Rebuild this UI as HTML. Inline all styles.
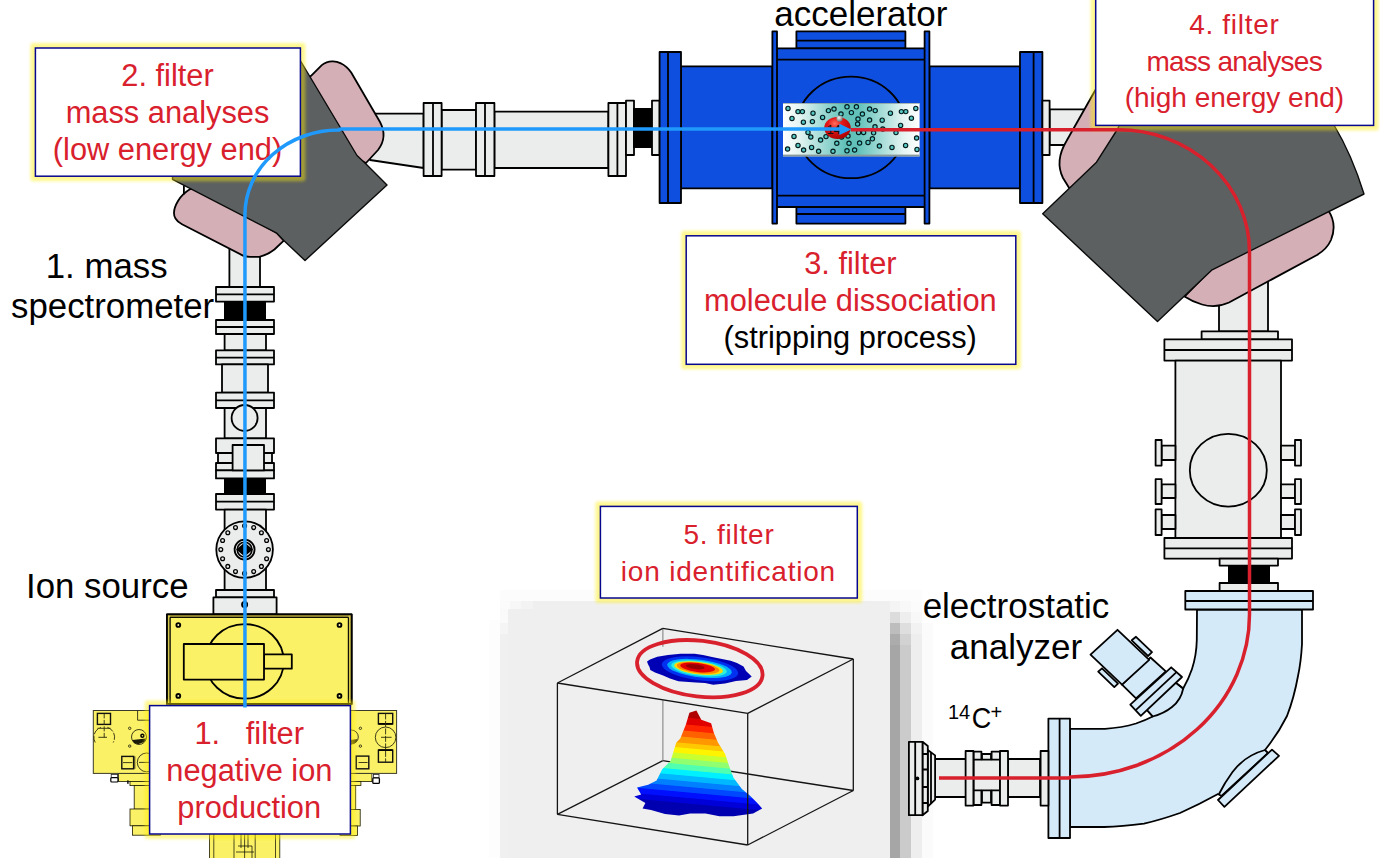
<!DOCTYPE html>
<html lang="en">
<head>
<meta charset="utf-8">
<title>AMS filter scheme</title>
<style>
html,body{margin:0;padding:0;background:#fff;}
body{width:1380px;height:858px;overflow:hidden;}
svg{display:block;}
svg text{font-family:"Liberation Sans",sans-serif;}
.o{stroke:#000;stroke-width:1.8;stroke-linejoin:round;}
.t{stroke:#000;stroke-width:1;}
.g{stroke:#0a0a0a;stroke-width:1.4;stroke-linejoin:round;}
.t2{stroke:#1a1a00;stroke-width:0.8;}
.n{stroke:none;}
.w{stroke:#141414;stroke-width:1.3;}
</style>
</head>
<body>
<svg width="1380" height="858" viewBox="0 0 1380 858">
<defs>
<linearGradient id="jet" x1="700" y1="710.6" x2="690" y2="819" gradientUnits="userSpaceOnUse">
<stop offset="0.0040" stop-color="#b00000"/>
<stop offset="0.0719" stop-color="#b00000"/>
<stop offset="0.0799" stop-color="#e00000"/>
<stop offset="0.1351" stop-color="#e00000"/>
<stop offset="0.1431" stop-color="#ff2400"/>
<stop offset="0.1920" stop-color="#ff2400"/>
<stop offset="0.2000" stop-color="#ff6000"/>
<stop offset="0.2489" stop-color="#ff6000"/>
<stop offset="0.2569" stop-color="#ff9800"/>
<stop offset="0.3058" stop-color="#ff9800"/>
<stop offset="0.3138" stop-color="#ffc800"/>
<stop offset="0.3501" stop-color="#ffc800"/>
<stop offset="0.3581" stop-color="#fff400"/>
<stop offset="0.4007" stop-color="#fff400"/>
<stop offset="0.4087" stop-color="#c8ff30"/>
<stop offset="0.4512" stop-color="#c8ff30"/>
<stop offset="0.4592" stop-color="#90ff70"/>
<stop offset="0.5018" stop-color="#90ff70"/>
<stop offset="0.5098" stop-color="#50ffb0"/>
<stop offset="0.5524" stop-color="#50ffb0"/>
<stop offset="0.5604" stop-color="#00f0ff"/>
<stop offset="0.6030" stop-color="#00f0ff"/>
<stop offset="0.6110" stop-color="#00b8ff"/>
<stop offset="0.6536" stop-color="#00b8ff"/>
<stop offset="0.6616" stop-color="#0080ff"/>
<stop offset="0.7042" stop-color="#0080ff"/>
<stop offset="0.7122" stop-color="#0048ff"/>
<stop offset="0.7547" stop-color="#0048ff"/>
<stop offset="0.7627" stop-color="#0010ff"/>
<stop offset="0.8053" stop-color="#0010ff"/>
<stop offset="0.8133" stop-color="#0000d8"/>
<stop offset="0.8559" stop-color="#0000d8"/>
<stop offset="0.8639" stop-color="#0000b0"/>
<stop offset="0.9571" stop-color="#0000b0"/>
</linearGradient>
<linearGradient id="gas" x1="0" y1="0" x2="1" y2="0">
<stop offset="0" stop-color="#ffffff"/>
<stop offset="0.12" stop-color="#e4f4f2"/>
<stop offset="0.45" stop-color="#62c2ba"/>
<stop offset="0.55" stop-color="#62c2ba"/>
<stop offset="0.88" stop-color="#e4f4f2"/>
<stop offset="1" stop-color="#ffffff"/>
</linearGradient>
<radialGradient id="ball" cx="0.4" cy="0.3" r="0.75">
<stop offset="0" stop-color="#ff7060"/>
<stop offset="0.35" stop-color="#e61818"/>
<stop offset="1" stop-color="#a80000"/>
</radialGradient>
<radialGradient id="ballg" cx="0.4" cy="0.35" r="0.7">
<stop offset="0" stop-color="#f4f4f4"/>
<stop offset="1" stop-color="#6a6a6a"/>
</radialGradient>
<filter id="glow" x="-10%" y="-20%" width="120%" height="140%">
<feGaussianBlur stdDeviation="1.6"/>
</filter>
</defs>
<rect x="500" y="590" width="422" height="11" fill="#fcfcfc"/>
<rect x="489" y="620" width="11" height="238" fill="#fdfdfd"/>
<rect x="500" y="601" width="10" height="8" fill="#fbfbfb"/>
<rect x="510" y="601" width="11" height="8" fill="#f7f7f7"/>
<rect x="521" y="601" width="12" height="8" fill="#f3f3f3"/>
<rect x="533" y="601" width="357" height="8" fill="#efefef"/>
<rect x="500" y="609" width="8" height="14" fill="#fafafa"/>
<rect x="500" y="623" width="8" height="11" fill="#f5f5f5"/>
<rect x="500" y="634" width="8" height="224" fill="#f0f0f0"/>
<rect x="508" y="609" width="382" height="249" fill="#efefef"/>
<rect x="890" y="601" width="10" height="11" fill="#f4f4f4"/>
<rect x="890" y="612" width="10" height="11" fill="#dcdcdc"/>
<rect x="890" y="623" width="10" height="11" fill="#bdbdbd"/>
<rect x="890" y="634" width="10" height="11" fill="#acacac"/>
<rect x="890" y="645" width="10" height="213" fill="#a6a6a6"/>
<rect x="900" y="601" width="11" height="11" fill="#f8f8f8"/>
<rect x="900" y="612" width="11" height="11" fill="#eeeeee"/>
<rect x="900" y="623" width="11" height="11" fill="#dedede"/>
<rect x="900" y="634" width="11" height="11" fill="#d2d2d2"/>
<rect x="900" y="645" width="11" height="213" fill="#cbcbcb"/>
<rect x="911" y="601" width="11" height="11" fill="#fbfbfb"/>
<rect x="911" y="612" width="11" height="11" fill="#f8f8f8"/>
<rect x="911" y="623" width="11" height="11" fill="#f2f2f2"/>
<rect x="911" y="634" width="11" height="224" fill="#eeeeee"/>
<rect x="922" y="623" width="11" height="235" fill="#fbfbfb"/>
<line x1="662.8" y1="760.7" x2="853.3" y2="790.5" class="w"/>
<line x1="662.8" y1="760.7" x2="557.4" y2="814.3" class="w"/>
<path d="M662.9,628.4 V646.8 M662.9,700.4 V760.7" stroke="#7a7a7a" stroke-width="1" fill="none"/>
<path d="M647,661.4 L650,659.6 L657.3,656.7 L668,655 L680.6,653.8 L694.6,653.8 L703,655 L713.2,657.3 L730.7,660.8 L737,663 L743.5,666.6 L746,671 L751.7,676.5 L747,680 L736,681 L725,683.5 L713.2,684.7 L705,683 L695.8,682.4 L678.3,681.2 L670,678.6 L663.1,675.4 L655,672.6 L650.3,670.1 L649.5,667 L648,664.3Z" fill="#0000b4"/>
<g transform="translate(699,668.4) rotate(7)">
<ellipse cx="1" cy="0.2" rx="38.5" ry="11.6" fill="#0030f0"/>
<ellipse cx="0.5" cy="0" rx="32.5" ry="8.8" fill="#00b0ff"/>
<ellipse cx="0" cy="0" rx="28" ry="7.4" fill="#30f0d8"/>
<ellipse cx="-0.5" cy="-0.2" rx="24.5" ry="6.2" fill="#ffd800"/>
<ellipse cx="-1" cy="-0.4" rx="21.5" ry="5.4" fill="#ff8400"/>
<ellipse cx="-1.5" cy="-0.8" rx="17.5" ry="4.5" fill="#e40000"/>
<ellipse cx="-4" cy="-1.2" rx="9.5" ry="2.4" fill="#980000"/>
</g>
<path d="M689.4,712.7 L696.4,710.6 L701.3,719.7 L711.1,723.2 L713.9,733 L718.1,742.8 L725.1,754 L729.3,766.5 L733.5,777.7 L741.9,788.9 L750.3,795.9 L757.3,802.9 L762.2,808.5 L753.1,813.4 L733.5,816.2 L719.5,816.2 L705.5,813.4 L690.1,813.4 L679,815.5 L665,814.1 L651,809.9 L642.6,808.5 L645.4,802.9 L634.2,796.6 L641.2,794.5 L637,787.5 L648.2,784.7 L656.6,780.5 L662.2,769.3 L670.6,760.9 L676.2,742.8 L680.3,738.6 L685.9,724.6Z" fill="url(#jet)"/>
<line x1="662.8" y1="628.4" x2="853.3" y2="659" class="w"/>
<line x1="853.3" y1="659" x2="747.7" y2="713.3" class="w"/>
<line x1="747.7" y1="713.3" x2="557.4" y2="683" class="w"/>
<line x1="557.4" y1="683" x2="662.8" y2="628.4" class="w"/>
<line x1="853.3" y1="659" x2="853.3" y2="790.5" class="w"/>
<line x1="747.7" y1="713.3" x2="747.7" y2="845" class="w"/>
<line x1="557.4" y1="683" x2="557.4" y2="814.3" class="w"/>
<line x1="853.3" y1="790.5" x2="747.7" y2="845" class="w"/>
<line x1="747.7" y1="845" x2="557.4" y2="814.3" class="w"/>
<ellipse cx="699.8" cy="668.7" rx="63.1" ry="27.9" transform="rotate(6.6 699.8 668.7)" fill="none" stroke="#d9202d" stroke-width="3.8"/>
<path d="M370,113.6 L423.6,113.6 L423.6,168 L370,160 Z" fill="#ebecec" class="o"/>
<rect x="441.6" y="110.0" width="34.4" height="59.6" fill="#ebecec" class="o" />
<rect x="494.4" y="111.6" width="114.0" height="56.4" fill="#ebecec" class="o" />
<rect x="423.6" y="103.0" width="18.0" height="73.0" fill="#ebecec" class="o" />
<line x1="433" y1="103" x2="433" y2="176" class="o"/>
<rect x="476.0" y="103.0" width="18.4" height="73.0" fill="#ebecec" class="o" />
<line x1="485" y1="103" x2="485" y2="176" class="o"/>
<rect x="608.4" y="103.0" width="17.6" height="73.0" fill="#ebecec" class="o" />
<line x1="617.4" y1="103" x2="617.4" y2="176" class="o"/>
<rect x="626.0" y="100.6" width="8.0" height="54.4" fill="#ebecec" class="o" />
<rect x="633.0" y="108.0" width="20.0" height="40.0" fill="#000" class="n" />
<rect x="652.0" y="100.6" width="7.6" height="54.4" fill="#ebecec" class="o" />
<rect x="681.0" y="66.4" width="91.4" height="122.0" fill="#0f4fe0" class="o" />
<rect x="929.4" y="66.4" width="90.6" height="122.0" fill="#0f4fe0" class="o" />
<rect x="659.6" y="52.0" width="21.4" height="151.0" fill="#0f4fe0" class="o" />
<line x1="668" y1="52" x2="668" y2="203" class="o"/>
<rect x="1020.0" y="52.0" width="22.4" height="151.0" fill="#0f4fe0" class="o" />
<line x1="1033.6" y1="52" x2="1033.6" y2="203" class="o"/>
<rect x="796.4" y="31.4" width="109.0" height="17.0" fill="#0f4fe0" class="o" />
<line x1="796.4" y1="40.6" x2="905.4" y2="40.6" class="o"/>
<rect x="796.4" y="207.0" width="109.0" height="16.6" fill="#0f4fe0" class="o" />
<line x1="796.4" y1="214" x2="905.4" y2="214" class="o"/>
<rect x="776.4" y="48.4" width="148.6" height="158.6" fill="#0f4fe0" class="o" />
<line x1="776.4" y1="59.6" x2="925" y2="59.6" class="o"/>
<line x1="776.4" y1="195.6" x2="925" y2="195.6" class="o"/>
<rect x="772.4" y="31.4" width="4.6" height="192.2" fill="#0f4fe0" class="o" />
<rect x="924.6" y="31.4" width="4.8" height="192.2" fill="#0f4fe0" class="o" />
<ellipse cx="851" cy="127.4" rx="54.5" ry="50.8" fill="#0f4fe0" class="o"/>
<rect x="783" y="103" width="136.6" height="53.4" fill="url(#gas)"/>
<rect x="783" y="154.6" width="136.6" height="1.8" fill="#8a9a9a"/>
<rect x="783" y="103" width="136.6" height="1" fill="#7a8a8a" opacity="0.6"/>
<circle cx="788.0" cy="108.4" r="2.15" fill="#58c9c6" stroke="#041c1c" stroke-width="1.15"/>
<circle cx="798.0" cy="111.6" r="2.15" fill="#58c9c6" stroke="#041c1c" stroke-width="1.15"/>
<circle cx="802.4" cy="111.6" r="2.15" fill="#58c9c6" stroke="#041c1c" stroke-width="1.15"/>
<circle cx="813.0" cy="113.2" r="2.15" fill="#58c9c6" stroke="#041c1c" stroke-width="1.15"/>
<circle cx="792.0" cy="118.4" r="2.15" fill="#58c9c6" stroke="#041c1c" stroke-width="1.15"/>
<circle cx="803.4" cy="122.2" r="2.15" fill="#58c9c6" stroke="#041c1c" stroke-width="1.15"/>
<circle cx="812.4" cy="121.6" r="2.15" fill="#58c9c6" stroke="#041c1c" stroke-width="1.15"/>
<circle cx="822.6" cy="117.4" r="2.15" fill="#58c9c6" stroke="#041c1c" stroke-width="1.15"/>
<circle cx="828.4" cy="110.6" r="2.15" fill="#58c9c6" stroke="#041c1c" stroke-width="1.15"/>
<circle cx="834.0" cy="109.0" r="2.15" fill="#58c9c6" stroke="#041c1c" stroke-width="1.15"/>
<circle cx="847.0" cy="106.8" r="2.15" fill="#58c9c6" stroke="#041c1c" stroke-width="1.15"/>
<circle cx="856.4" cy="106.8" r="2.15" fill="#58c9c6" stroke="#041c1c" stroke-width="1.15"/>
<circle cx="841.0" cy="114.0" r="2.15" fill="#58c9c6" stroke="#041c1c" stroke-width="1.15"/>
<circle cx="851.4" cy="112.6" r="2.15" fill="#58c9c6" stroke="#041c1c" stroke-width="1.15"/>
<circle cx="862.4" cy="114.0" r="2.15" fill="#58c9c6" stroke="#041c1c" stroke-width="1.15"/>
<circle cx="869.6" cy="109.0" r="2.15" fill="#58c9c6" stroke="#041c1c" stroke-width="1.15"/>
<circle cx="875.2" cy="110.6" r="2.15" fill="#58c9c6" stroke="#041c1c" stroke-width="1.15"/>
<circle cx="858.0" cy="119.0" r="2.15" fill="#58c9c6" stroke="#041c1c" stroke-width="1.15"/>
<circle cx="869.6" cy="120.0" r="2.15" fill="#58c9c6" stroke="#041c1c" stroke-width="1.15"/>
<circle cx="882.2" cy="120.2" r="2.15" fill="#58c9c6" stroke="#041c1c" stroke-width="1.15"/>
<circle cx="890.4" cy="113.2" r="2.15" fill="#58c9c6" stroke="#041c1c" stroke-width="1.15"/>
<circle cx="901.4" cy="111.6" r="2.15" fill="#58c9c6" stroke="#041c1c" stroke-width="1.15"/>
<circle cx="905.8" cy="111.6" r="2.15" fill="#58c9c6" stroke="#041c1c" stroke-width="1.15"/>
<circle cx="915.8" cy="108.4" r="2.15" fill="#58c9c6" stroke="#041c1c" stroke-width="1.15"/>
<circle cx="911.4" cy="118.2" r="2.15" fill="#58c9c6" stroke="#041c1c" stroke-width="1.15"/>
<circle cx="900.6" cy="125.4" r="2.15" fill="#58c9c6" stroke="#041c1c" stroke-width="1.15"/>
<circle cx="857.6" cy="124.0" r="2.15" fill="#58c9c6" stroke="#041c1c" stroke-width="1.15"/>
<circle cx="875.0" cy="126.8" r="2.15" fill="#58c9c6" stroke="#041c1c" stroke-width="1.15"/>
<circle cx="882.8" cy="129.0" r="2.15" fill="#58c9c6" stroke="#041c1c" stroke-width="1.15"/>
<circle cx="794.0" cy="136.4" r="2.15" fill="#58c9c6" stroke="#041c1c" stroke-width="1.15"/>
<circle cx="808.0" cy="132.4" r="2.15" fill="#58c9c6" stroke="#041c1c" stroke-width="1.15"/>
<circle cx="810.8" cy="137.0" r="2.15" fill="#58c9c6" stroke="#041c1c" stroke-width="1.15"/>
<circle cx="820.6" cy="140.0" r="2.15" fill="#58c9c6" stroke="#041c1c" stroke-width="1.15"/>
<circle cx="826.0" cy="136.6" r="2.15" fill="#58c9c6" stroke="#041c1c" stroke-width="1.15"/>
<circle cx="841.6" cy="137.0" r="2.15" fill="#58c9c6" stroke="#041c1c" stroke-width="1.15"/>
<circle cx="848.0" cy="136.0" r="2.15" fill="#58c9c6" stroke="#041c1c" stroke-width="1.15"/>
<circle cx="858.6" cy="132.4" r="2.15" fill="#58c9c6" stroke="#041c1c" stroke-width="1.15"/>
<circle cx="863.6" cy="132.4" r="2.15" fill="#58c9c6" stroke="#041c1c" stroke-width="1.15"/>
<circle cx="873.6" cy="132.8" r="2.15" fill="#58c9c6" stroke="#041c1c" stroke-width="1.15"/>
<circle cx="872.4" cy="138.8" r="2.15" fill="#58c9c6" stroke="#041c1c" stroke-width="1.15"/>
<circle cx="868.0" cy="142.4" r="2.15" fill="#58c9c6" stroke="#041c1c" stroke-width="1.15"/>
<circle cx="859.6" cy="143.0" r="2.15" fill="#58c9c6" stroke="#041c1c" stroke-width="1.15"/>
<circle cx="849.0" cy="143.2" r="2.15" fill="#58c9c6" stroke="#041c1c" stroke-width="1.15"/>
<circle cx="836.8" cy="143.2" r="2.15" fill="#58c9c6" stroke="#041c1c" stroke-width="1.15"/>
<circle cx="896.0" cy="132.6" r="2.15" fill="#58c9c6" stroke="#041c1c" stroke-width="1.15"/>
<circle cx="916.6" cy="138.0" r="2.15" fill="#58c9c6" stroke="#041c1c" stroke-width="1.15"/>
<circle cx="798.0" cy="145.4" r="2.15" fill="#58c9c6" stroke="#041c1c" stroke-width="1.15"/>
<circle cx="803.6" cy="150.0" r="2.15" fill="#58c9c6" stroke="#041c1c" stroke-width="1.15"/>
<circle cx="811.6" cy="147.4" r="2.15" fill="#58c9c6" stroke="#041c1c" stroke-width="1.15"/>
<circle cx="818.6" cy="151.2" r="2.15" fill="#58c9c6" stroke="#041c1c" stroke-width="1.15"/>
<circle cx="833.0" cy="151.2" r="2.15" fill="#58c9c6" stroke="#041c1c" stroke-width="1.15"/>
<circle cx="847.0" cy="150.8" r="2.15" fill="#58c9c6" stroke="#041c1c" stroke-width="1.15"/>
<circle cx="854.6" cy="150.0" r="2.15" fill="#58c9c6" stroke="#041c1c" stroke-width="1.15"/>
<circle cx="879.4" cy="146.0" r="2.15" fill="#58c9c6" stroke="#041c1c" stroke-width="1.15"/>
<circle cx="892.0" cy="147.4" r="2.15" fill="#58c9c6" stroke="#041c1c" stroke-width="1.15"/>
<circle cx="905.6" cy="145.4" r="2.15" fill="#58c9c6" stroke="#041c1c" stroke-width="1.15"/>
<circle cx="917.0" cy="149.4" r="2.15" fill="#58c9c6" stroke="#041c1c" stroke-width="1.15"/>
<circle cx="787.6" cy="149.0" r="2.15" fill="#58c9c6" stroke="#041c1c" stroke-width="1.15"/>
<ellipse cx="837.5" cy="127.9" rx="13.2" ry="11" fill="url(#ball)"/>
<circle cx="839.6" cy="118.6" r="3.1" fill="url(#ballg)"/>
<text x="833.6" y="133.6" font-size="12.5" text-anchor="middle" fill="#111" font-family="Liberation Sans, sans-serif">14</text>
<rect x="229.4" y="245.0" width="30.6" height="42.0" fill="#ebecec" class="o" />
<rect x="216.0" y="287.0" width="58.0" height="14.6" fill="#ebecec" class="o" />
<line x1="216" y1="294.4" x2="274" y2="294.4" class="o"/>
<rect x="224.0" y="301.0" width="42.0" height="20.0" fill="#000" class="n" />
<rect x="216.0" y="320.0" width="58.0" height="14.0" fill="#ebecec" class="o" />
<line x1="216" y1="327" x2="274" y2="327" class="o"/>
<rect x="224.6" y="334.0" width="41.4" height="16.4" fill="#ebecec" class="o" />
<rect x="216.0" y="350.4" width="58.0" height="14.0" fill="#ebecec" class="o" />
<line x1="216" y1="357.6" x2="274" y2="357.6" class="o"/>
<rect x="222.0" y="364.4" width="46.0" height="28.2" fill="#ebecec" class="o" />
<rect x="216.0" y="392.6" width="58.0" height="15.4" fill="#ebecec" class="o" />
<line x1="216" y1="400.4" x2="274" y2="400.4" class="o"/>
<rect x="224.6" y="408.0" width="41.4" height="30.4" fill="#ebecec" class="o" />
<circle cx="244.6" cy="418" r="13" fill="#ebecec" class="o"/>
<rect x="216.0" y="438.4" width="58.0" height="14.6" fill="#ebecec" class="o" />
<rect x="218.0" y="453.0" width="54.0" height="10.0" fill="#ebecec" class="o" />
<rect x="216.0" y="463.0" width="58.0" height="7.4" fill="#ebecec" class="o" />
<rect x="216.0" y="470.4" width="58.0" height="8.0" fill="#ebecec" class="o" />
<rect x="232.6" y="445.0" width="31.4" height="25.4" fill="#ebecec" class="o" />
<rect x="224.0" y="478.0" width="42.0" height="17.0" fill="#000" class="n" />
<rect x="216.0" y="494.0" width="58.0" height="15.6" fill="#ebecec" class="o" />
<line x1="216" y1="501.6" x2="274" y2="501.6" class="o"/>
<rect x="224.6" y="509.6" width="41.4" height="80.4" fill="#ebecec" class="o" />
<circle cx="244.6" cy="549.6" r="28.3" fill="#ebecec" class="o"/>
<circle cx="244.6" cy="525.8" r="1.9" fill="#ebecec" stroke="#000" stroke-width="1.3"/>
<circle cx="253.7" cy="527.6" r="1.9" fill="#ebecec" stroke="#000" stroke-width="1.3"/>
<circle cx="261.4" cy="532.8" r="1.9" fill="#ebecec" stroke="#000" stroke-width="1.3"/>
<circle cx="266.6" cy="540.5" r="1.9" fill="#ebecec" stroke="#000" stroke-width="1.3"/>
<circle cx="268.4" cy="549.6" r="1.9" fill="#ebecec" stroke="#000" stroke-width="1.3"/>
<circle cx="266.6" cy="558.7" r="1.9" fill="#ebecec" stroke="#000" stroke-width="1.3"/>
<circle cx="261.4" cy="566.4" r="1.9" fill="#ebecec" stroke="#000" stroke-width="1.3"/>
<circle cx="253.7" cy="571.6" r="1.9" fill="#ebecec" stroke="#000" stroke-width="1.3"/>
<circle cx="244.6" cy="573.4" r="1.9" fill="#ebecec" stroke="#000" stroke-width="1.3"/>
<circle cx="235.5" cy="571.6" r="1.9" fill="#ebecec" stroke="#000" stroke-width="1.3"/>
<circle cx="227.8" cy="566.4" r="1.9" fill="#ebecec" stroke="#000" stroke-width="1.3"/>
<circle cx="222.6" cy="558.7" r="1.9" fill="#ebecec" stroke="#000" stroke-width="1.3"/>
<circle cx="220.8" cy="549.6" r="1.9" fill="#ebecec" stroke="#000" stroke-width="1.3"/>
<circle cx="222.6" cy="540.5" r="1.9" fill="#ebecec" stroke="#000" stroke-width="1.3"/>
<circle cx="227.8" cy="532.8" r="1.9" fill="#ebecec" stroke="#000" stroke-width="1.3"/>
<circle cx="235.5" cy="527.6" r="1.9" fill="#ebecec" stroke="#000" stroke-width="1.3"/>
<circle cx="244.6" cy="549.6" r="10" fill="#ebecec" class="o"/>
<path d="M244.6,542.6 L253,549.6 L244.6,556.6 L236.2,549.6 Z" fill="#000"/>
<circle cx="244.6" cy="549.6" r="7.4" fill="none" stroke="#000" stroke-width="1.6"/>
<rect x="216.0" y="590.0" width="58.0" height="7.4" fill="#ebecec" class="o" />
<rect x="213.4" y="597.4" width="63.2" height="17.1" fill="#ebecec" class="o" />
<circle cx="244.6" cy="604.6" r="2.6" fill="#ebecec" class="o"/>
<path d="M310.8,76.1 L321.8,65.1 Q327,61 333,61.4 Q341,62 346.5,67.2 Q349.5,70 351.2,72.5 L380,122 Q388,137 378,150 L366,163 L340,150 L305,80 Z" fill="#d5afb6" class="o"/>
<path d="M190.3,189 Q182,194 178,201 Q171.5,212 175.5,218.5 Q177.5,222 182,224.2 L243,255.6 Q246,256.8 250,256.8 L259.3,256.8 Q267,255.2 274.4,249.5 L283.8,240.7 L276.8,233 L200,188 Z" fill="#d5afb6" class="o"/>
<path d="M183.9,185.4 V194.5" fill="none" class="o"/>
<path d="M300,60 L357,155.5 L366,164 L387,185 L305,260.5 L283.8,240.5 L276.8,233.2 L172.5,179.3 L173,100 L290,55 Z" fill="#5c6060" class="g"/>
<rect x="130" y="773.4" width="30" height="8" fill="#fbf166" class="t2"/>
<rect x="118.4" y="773.4" width="41.6" height="8" fill="#fbf166" class="t2"/>
<rect x="130" y="781.4" width="30" height="4.2" fill="#fbf166" class="t2"/>
<rect x="134.2" y="785.6" width="26" height="23.6" fill="#fbf166" class="t2"/>
<rect x="130" y="809" width="30" height="16.8" fill="#fbf166" class="t2"/>
<rect x="132.4" y="825.8" width="28" height="9.4" fill="#fbf166" class="t2"/>
<rect x="93.3" y="710.5" width="66.7" height="62.9" fill="#fbf166" stroke="#3a3a2a" stroke-width="1"/>
<path d="M137.6,710.5 V720.2 H160" stroke="#2a2a10" stroke-width="0.9" fill="none"/>
<rect x="97.4" y="713.4" width="13.1" height="11" stroke="#111" stroke-width="1.4" fill="none"/>
<path d="M104.2,713.4 V737.5" stroke="#2a2a10" stroke-width="0.9" fill="none" stroke-dasharray="5 1.5"/>
<path d="M97.4,728.3 H110.5 M98.4,737.3 H107 " stroke="#2a2a10" stroke-width="0.9" fill="none"/>
<path d="M95.2,742.5 A10.5,10.5 0 0 1 101,727.3 M107.4,727.3 A10.5,10.5 0 0 1 113.2,742.5" stroke="#2a2a10" stroke-width="0.9" fill="none" stroke-dasharray="7 1.5"/>
<circle cx="129.7" cy="728.3" r="1.2" stroke="#2a2a10" stroke-width="0.9" fill="none"/>
<circle cx="129.7" cy="746.1" r="1.2" stroke="#2a2a10" stroke-width="0.9" fill="none"/>
<circle cx="139" cy="737" r="7.5" stroke="#2a2a10" stroke-width="0.9" fill="none"/>
<path d="M132.3,740 L146,738.6 L144.2,742 L138,744.2 L134,743 Z" fill="#1a1a08"/>
<circle cx="142.4" cy="735.8" r="1.5" fill="none" stroke="#000" stroke-width="1.5"/>
<rect x="121.8" y="756.4" width="11.8" height="12.4" stroke="#111" stroke-width="1.4" fill="none"/>
<path d="M123,762.6 H132.4 M134.8,756.4 V768.8" stroke="#2a2a10" stroke-width="0.9" fill="none"/>
<circle cx="146.7" cy="762.4" r="9.4" stroke="#2a2a10" stroke-width="0.9" fill="none"/>
<path d="M139,762.4 H152" stroke="#2a2a10" stroke-width="0.9" fill="none"/>
<rect x="111.2" y="774.6" width="6.4" height="3" fill="#fff" stroke="#222" stroke-width="0.8"/>
<rect x="110.8" y="777.6" width="7.2" height="4.4" rx="1" fill="#fff" stroke="#000" stroke-width="1.2"/>
<rect x="127.2" y="780.4" width="1.4" height="3.4" fill="#000"/>
<rect x="340" y="773.4" width="31.9" height="8.2" fill="#fbf166" class="t2"/>
<rect x="340" y="781.6" width="20.9" height="3.8" fill="#fbf166" class="t2"/>
<rect x="340" y="785.4" width="15.7" height="24.2" fill="#fbf166" class="t2"/>
<rect x="340" y="809.6" width="20.2" height="16.4" fill="#fbf166" class="t2"/>
<rect x="340" y="826" width="17.5" height="9.4" fill="#fbf166" class="t2"/>
<rect x="340" y="710.5" width="56.6" height="62.9" fill="#fbf166" stroke="#3a3a2a" stroke-width="1"/>
<rect x="378.4" y="713.4" width="14.3" height="10.5" stroke="#111" stroke-width="1.4" fill="none"/>
<rect x="378.4" y="750.1" width="14.3" height="12.1" stroke="#111" stroke-width="1.4" fill="none"/>
<path d="M378.4,723.9 H392.7 M378.4,750.1 H392.7" stroke="#000" stroke-width="1.8" fill="none"/>
<circle cx="385.6" cy="737.3" r="10.3" stroke="#2a2a10" stroke-width="0.9" fill="none"/>
<path d="M385.6,713.4 V762.2" stroke="#2a2a10" stroke-width="0.9" fill="none" stroke-dasharray="6 1.5"/>
<path d="M381,737.3 H391.6" stroke="#2a2a10" stroke-width="0.9" fill="none"/>
<rect x="356.2" y="756.1" width="12.6" height="12.7" stroke="#111" stroke-width="1.4" fill="none"/>
<path d="M358.6,762.5 H367.6" stroke="#2a2a10" stroke-width="0.9" fill="none"/>
<circle cx="360.4" cy="728.3" r="1.2" stroke="#2a2a10" stroke-width="0.9" fill="none"/>
<circle cx="360.4" cy="746.1" r="1.2" stroke="#2a2a10" stroke-width="0.9" fill="none"/>
<circle cx="351.3" cy="737" r="7" stroke="#2a2a10" stroke-width="0.9" fill="none"/>
<path d="M350,740 L357.6,739 L356,742.6 L351,744.4 Z" fill="#4a4010"/>
<rect x="373.4" y="774.6" width="5.6" height="3.2" fill="#fff" stroke="#222" stroke-width="0.8"/>
<rect x="372.8" y="777.8" width="6.6" height="5.6" rx="1" fill="#fff" stroke="#000" stroke-width="1.3"/>
<rect x="209.4" y="830" width="70.4" height="30" fill="#fbf166" class="t2"/>
<path d="M213.8,834 V858 M275.5,834 V858 M234,834 V858 M255.2,834 V858 M244.6,834 V858 M241,834 V848 M248,834 V848 M238,846 H252 V858 M236,852 H254" fill="none" stroke="#000" stroke-width="0.7"/>
<rect x="167" y="614.3" width="184.6" height="89.6" fill="#fbf166" class="o"/>
<path d="M167,614.3 L170,617.3 H348.4 L351.6,614.3 M170,617.3 V706 M348.4,617.3 V706" fill="none" class="t"/>
<rect x="167" y="614.3" width="184.6" height="3" fill="#b3a436" class="n"/>
<rect x="167" y="614.3" width="3" height="92" fill="#d6c84a" class="n"/>
<rect x="348.4" y="614.3" width="3.2" height="92" fill="#d6c84a" class="n"/>
<path d="M170,617.3 V706 M348.4,617.3 V706 M170,617.3 H348.4" fill="none" class="t"/>
<rect x="167" y="614.3" width="184.6" height="89.6" fill="none" class="o"/>
<circle cx="178.3" cy="625" r="1.9" fill="#fff8b0" stroke="#000" stroke-width="1.9"/>
<circle cx="339.5" cy="625" r="1.9" fill="#fff8b0" stroke="#000" stroke-width="1.9"/>
<circle cx="178.3" cy="695.9" r="1.9" fill="#fff8b0" stroke="#000" stroke-width="1.9"/>
<circle cx="339.5" cy="695.9" r="1.9" fill="#fff8b0" stroke="#000" stroke-width="1.9"/>
<ellipse cx="244.7" cy="661.4" rx="39" ry="37.3" fill="#fbf166" class="o"/>
<rect x="264.0" y="654.4" width="27.8" height="14.3" fill="#fbf166" class="o" />
<rect x="183.8" y="644.0" width="80.2" height="35.6" fill="#fbf166" class="o" />
<rect x="1219.0" y="280.0" width="49.0" height="51.4" fill="#ebecec" class="o" />
<rect x="1201.6" y="331.4" width="76.4" height="8.0" fill="#ebecec" class="o" />
<rect x="1164.4" y="339.4" width="127.6" height="21.2" fill="#ebecec" class="o" />
<line x1="1164.4" y1="350" x2="1292" y2="350" class="o"/>
<rect x="1175.4" y="360.6" width="105.6" height="177.4" fill="#ebecec" class="o" />
<ellipse cx="1228.3" cy="470.2" rx="38.5" ry="36.4" fill="#ebecec" class="o"/>
<rect x="1161.6" y="445.6" width="13.8" height="14.4" fill="#ebecec" class="o" />
<rect x="1155.6" y="440.0" width="6.0" height="25.6" fill="#ebecec" class="o" />
<rect x="1281.0" y="445.6" width="14.0" height="14.4" fill="#ebecec" class="o" />
<rect x="1295.0" y="440.0" width="6.0" height="25.6" fill="#ebecec" class="o" />
<rect x="1161.6" y="484.4" width="13.8" height="13.6" fill="#ebecec" class="o" />
<rect x="1155.6" y="479.2" width="6.0" height="24.8" fill="#ebecec" class="o" />
<rect x="1281.0" y="484.4" width="14.0" height="13.6" fill="#ebecec" class="o" />
<rect x="1295.0" y="479.2" width="6.0" height="24.8" fill="#ebecec" class="o" />
<rect x="1161.6" y="515.0" width="13.8" height="14.0" fill="#ebecec" class="o" />
<rect x="1155.6" y="509.4" width="6.0" height="25.6" fill="#ebecec" class="o" />
<rect x="1281.0" y="515.0" width="14.0" height="14.0" fill="#ebecec" class="o" />
<rect x="1295.0" y="509.4" width="6.0" height="25.6" fill="#ebecec" class="o" />
<rect x="1164.4" y="538.0" width="127.6" height="20.6" fill="#ebecec" class="o" />
<line x1="1164.4" y1="548.4" x2="1292" y2="548.4" class="o"/>
<rect x="1219.6" y="558.6" width="58.4" height="7.0" fill="#ebecec" class="o" />
<rect x="1228.0" y="565.0" width="42.0" height="19.0" fill="#000" class="n" />
<rect x="1219.6" y="583.0" width="58.4" height="8.0" fill="#ebecec" class="o" />
<rect x="1049.6" y="109.4" width="45.4" height="35.6" fill="#ebecec" class="o" />
<rect x="1042.4" y="100.6" width="7.2" height="54.4" fill="#ebecec" class="o" />
<path d="M1098.8,84 L1066.5,141 Q1054.5,161 1063,178 L1069.5,188.5 L1100,170 L1130,110 Z" fill="#d5afb6" class="o"/>
<path d="M1328,210 Q1337.5,224 1331,240 Q1327,249 1317,255 L1229,302.5 Q1216,308.5 1202,304.5 Q1193,302 1184.5,296.5 L1230,250 L1320,205 Z" fill="#d5afb6" class="o"/>
<path d="M1117.6,129 L1096.5,162.2 L1042.7,213.8 L1157.5,321.5 L1211.6,270.2 L1364,194 Q1352,155 1334,125 L1320,100 L1130,100 Z" fill="#5c6060" class="g"/>
<path d="M1122,684.6 L1150.5,657.5 L1165.8,671.4 L1136,698.3 Z" fill="#d5eaf9" class="o"/>
<path d="M1131.7,640.3 L1136,636.8 L1152,652.2 L1148,656 Z" fill="#d5eaf9" class="o"/>
<path d="M1098.2,671.7 L1102,668.3 L1118,683.6 L1114.3,687.1 Z" fill="#d5eaf9" class="o"/>
<path d="M1090.5,654.7 L1117.5,629.8 L1149.2,659.9 L1122,684.6 Z" fill="#d5eaf9" class="o"/>
<path d="M1197,609.5 L1302,609.5 L1302,644 Q1301,662 1298,676 Q1294,698 1287,716 Q1278,734 1265,750 L1268,753 L1221.5,796 L1218,794 Q1200,804 1180,813 Q1160,820 1144,823.6 Q1122,826.5 1104,827 L1070,827 L1070,728.8 L1105,728.8 Q1122,727.7 1136,723.5 Q1146,720 1152.7,716.5 L1146,709 L1174.5,681.6 L1183.2,688.5 Q1189,678 1192,669 Q1196.5,655 1196.8,640 Z" fill="#d5eaf9" class="o"/>
<path d="M1265,750 Q1245,755.5 1232.5,772 Q1224.5,783 1219,794" fill="none" class="o"/>
<path d="M1176.8,683.6 L1183.2,688.5 Q1181,700 1172,707 Q1164,713.5 1152.7,716.5 L1147.8,711" fill="none" class="o"/>
<path d="M1130.3,704.6 L1171.2,667.3 L1182,677 L1140.8,715.8 Z" fill="#d5eaf9" class="o"/>
<path d="M1136,709.8 L1176.5,672.2" fill="none" class="o"/>
<path d="M1218,800 L1272,749.6 L1279,755.8 L1224.4,806.8 Z" fill="#d5eaf9" class="o"/>
<rect x="1185.3" y="591.0" width="127.7" height="18.5" fill="#d5eaf9" class="o" />
<line x1="1185.3" y1="601" x2="1313" y2="601" class="o"/>
<rect x="1048.4" y="718.6" width="21.6" height="119.4" fill="#d5eaf9" class="o" />
<line x1="1059.6" y1="718.6" x2="1059.6" y2="838" class="o"/>
<rect x="935.0" y="759.0" width="31.0" height="38.0" fill="#ebecec" class="o" />
<rect x="1008.0" y="759.0" width="32.0" height="38.0" fill="#ebecec" class="o" />
<rect x="1040.6" y="751.0" width="7.8" height="54.6" fill="#ebecec" class="o" />
<rect x="973.6" y="759.0" width="26.4" height="38.0" fill="#ebecec" class="o" />
<rect x="973.6" y="751.6" width="7.8" height="8.0" fill="#ebecec" class="o" />
<rect x="991.6" y="751.6" width="8.4" height="8.0" fill="#ebecec" class="o" />
<rect x="982.0" y="754.0" width="9.0" height="5.6" fill="#ebecec" class="o" />
<rect x="973.6" y="790.4" width="7.8" height="14.6" fill="#ebecec" class="o" />
<rect x="991.6" y="790.4" width="8.4" height="14.6" fill="#ebecec" class="o" />
<rect x="982.0" y="790.4" width="9.0" height="12.2" fill="#ebecec" class="o" />
<rect x="965.6" y="751.0" width="7.8" height="54.6" fill="#ebecec" class="o" />
<rect x="1000.0" y="751.0" width="8.0" height="54.6" fill="#ebecec" class="o" />
<path d="M927.8,750 L935.1,755.4 V799.6 L927.8,806.6 Z" fill="#ebecec" class="o"/>
<path d="M922.5,741.8 L927.8,746 V811 L922.5,815.2 Z" fill="#ebecec" class="o"/>
<rect x="908.9" y="741.8" width="13.6" height="73.4" fill="#ebecec" class="o" />
<path d="M915.2,741.8 V815.2 M931,752.5 V803.6" fill="none" class="o"/>
<path d="M922.5,754 H927.8 M922.5,769.6 H927.8 M922.5,787 H927.8 M922.5,803 H927.8" fill="none" stroke="#000" stroke-width="2"/>
<circle cx="917.4" cy="778.4" r="1.9" fill="#000"/>
<rect x="30.4" y="43.0" width="275.0" height="138.2" rx="2.5" fill="#ffee00" opacity="0.43" filter="url(#glow)"/>
<rect x="35.4" y="48" width="265.0" height="128.2" fill="#fff" stroke="#06068e" stroke-width="1.5"/>
<text x="167.5" y="86" font-size="30.8" fill="#d9202d" text-anchor="middle" >2. filter</text>
<text x="167.5" y="122.8" font-size="30.8" fill="#d9202d" text-anchor="middle" >mass analyses</text>
<text x="167.5" y="160" font-size="30.8" fill="#d9202d" text-anchor="middle" >(low energy end)</text>
<rect x="681.2" y="230.8" width="339.6" height="138.5" rx="2.5" fill="#ffee00" opacity="0.43" filter="url(#glow)"/>
<rect x="686.2" y="235.8" width="329.5999999999999" height="128.5" fill="#fff" stroke="#06068e" stroke-width="1.5"/>
<text x="850.4" y="273.6" font-size="30.8" fill="#d9202d" text-anchor="middle" >3. filter</text>
<text x="850.4" y="310.6" font-size="30.8" fill="#d9202d" text-anchor="middle" >molecule dissociation</text>
<text x="850.2" y="347.8" font-size="30.8" fill="#000" text-anchor="middle" >(stripping process)</text>
<rect x="1090.7" y="-15.0" width="287.9" height="145.4" rx="2.5" fill="#ffee00" opacity="0.43" filter="url(#glow)"/>
<rect x="1095.7" y="-10" width="277.89999999999986" height="135.4" fill="#fff" stroke="#06068e" stroke-width="1.5"/>
<text x="1234.3" y="33.8" font-size="28" fill="#d9202d" text-anchor="middle" letter-spacing="0.7" >4. filter</text>
<text x="1234.2" y="70.9" font-size="28" fill="#d9202d" text-anchor="middle" letter-spacing="-0.75" >mass analyses</text>
<text x="1234.4" y="107.4" font-size="28" fill="#d9202d" text-anchor="middle" >(high energy end)</text>
<rect x="595.4" y="501.4" width="266.9" height="101.6" rx="2.5" fill="#ffee00" opacity="0.43" filter="url(#glow)"/>
<rect x="600.4" y="506.4" width="256.9" height="91.60000000000002" fill="#fff" stroke="#06068e" stroke-width="1.5"/>
<text x="729" y="544" font-size="28" fill="#d9202d" text-anchor="middle" letter-spacing="0.8" >5. filter</text>
<text x="728.4" y="580.5" font-size="28" fill="#d9202d" text-anchor="middle" letter-spacing="0.8" >ion identification</text>
<rect x="144.6" y="700.6" width="210.8" height="138.4" rx="2.5" fill="#ffee00" opacity="0.43" filter="url(#glow)"/>
<rect x="149.6" y="705.6" width="200.79999999999998" height="128.39999999999998" fill="#fff" stroke="#06068e" stroke-width="1.5"/>
<text x="194.4" y="744.2" font-size="30.8" fill="#d9202d" xml:space="preserve" style="white-space:pre">1.   filter</text>
<text x="249.4" y="781.2" font-size="30.8" fill="#d9202d" text-anchor="middle" >negative ion</text>
<text x="249.2" y="818" font-size="30.8" fill="#d9202d" text-anchor="middle" >production</text>
<path d="M244.95,707.5 L244.95,214.5 A93.6,84.4 0 0 1 338.6,130.1 L340.4,129.1 L842,129.1" fill="none" stroke="#1f9afc" stroke-width="3.5" stroke-linejoin="round"/>
<path d="M839.4,123.69999999999999 L851.2,129.4 L839.4,135.1 Z" fill="#1f9afc"/>
<path d="M851,129.85 L1118.5,129.85 A131,122 0 0 1 1249.5,251.8 L1249.5,614.4 A179,162.3 0 0 1 1070.5,776.9 L1069,778 L939,778" fill="none" stroke="#d9202d" stroke-width="3.5" stroke-linejoin="round"/>
<text x="860.8" y="26" font-size="35" fill="#000" text-anchor="middle" >accelerator</text>
<text x="167.6" y="278" font-size="34.8" fill="#000" text-anchor="end" >1. mass</text>
<text x="112.6" y="318.4" font-size="34.8" fill="#000" text-anchor="middle" >spectrometer</text>
<text x="107.3" y="597.8" font-size="34.8" fill="#000" text-anchor="middle" >Ion source</text>
<text x="1016" y="618" font-size="35" fill="#000" text-anchor="middle" >electrostatic</text>
<text x="1016" y="659" font-size="35" fill="#000" text-anchor="middle" >analyzer</text>
<text x="948" y="719" font-size="20" fill="#000">14</text>
<text x="971.8" y="728.3" font-size="29" fill="#000" textLength="19.5" lengthAdjust="spacingAndGlyphs">C</text>
<text x="990.6" y="719" font-size="20" fill="#000">+</text>
</svg>
</body>
</html>
